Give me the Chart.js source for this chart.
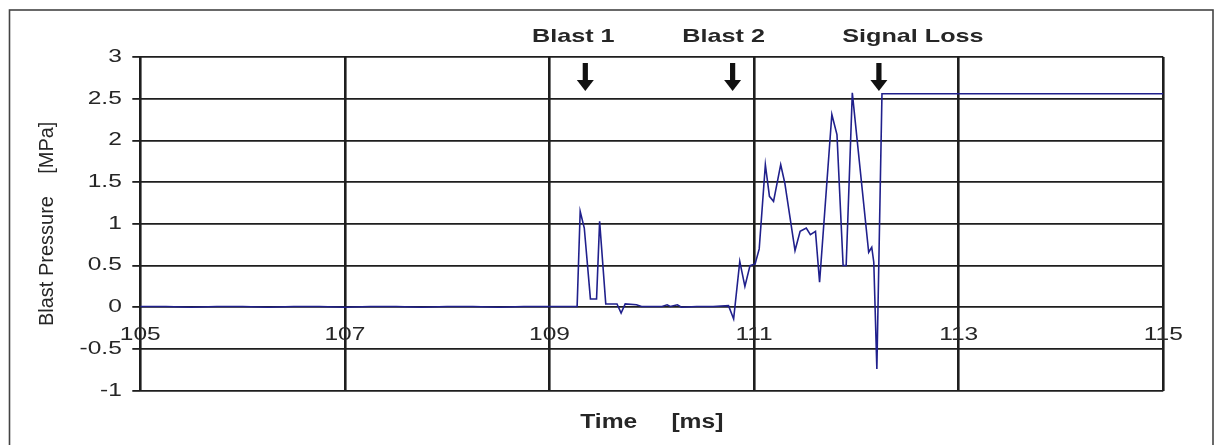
<!DOCTYPE html>
<html>
<head>
<meta charset="utf-8">
<title>Blast Pressure</title>
<script src="https://cdn.jsdelivr.net/npm/chart.js@4.4.1/dist/chart.umd.min.js"></script>
<style>
  html, body { margin: 0; padding: 0; background: #fff; }
  canvas { display: block; }
</style>
</head>
<body>
<canvas id="pressureChart" width="1218" height="445"></canvas>
<script>
// ================= DATA =================

// gauge trace, time in ms / pressure in MPa
const timeMs = [
    105.00, 105.25, 105.50, 105.75, 106.00, 106.25, 106.50, 106.75,
    107.00, 107.25, 107.50, 107.75, 108.00, 108.25, 108.50, 108.75,
    109.00, 109.27, 109.30, 109.34, 109.40, 109.46, 109.49, 109.55,
    109.66, 109.70, 109.74, 109.85, 109.90, 110.00, 110.10, 110.15,
    110.18, 110.25, 110.29, 110.44, 110.60, 110.75, 110.80, 110.86,
    110.91, 110.96, 111.01, 111.05, 111.11, 111.15, 111.19, 111.26,
    111.30, 111.40, 111.45, 111.51, 111.55, 111.60, 111.64, 111.76,
    111.81, 111.87, 111.90, 111.96, 112.12, 112.15, 112.17, 112.20,
    112.25, 115.00
];
const pressureMPa = [
    0.01, 0.01, 0.00, 0.01, 0.01, 0.00, 0.01, 0.01,
    0.00, 0.01, 0.01, 0.00, 0.01, 0.01, 0.00, 0.01,
    0.01, 0.01, 1.15, 0.95, 0.10, 0.10, 1.03, 0.04,
    0.04, -0.07, 0.04, 0.03, 0.01, 0.01, 0.01, 0.03,
    0.01, 0.03, 0.00, 0.01, 0.01, 0.02, -0.14, 0.55,
    0.25, 0.50, 0.52, 0.70, 1.71, 1.33, 1.27, 1.71,
    1.49, 0.68, 0.91, 0.95, 0.87, 0.91, 0.30, 2.31,
    2.07, 0.50, 0.50, 2.57, 0.66, 0.72, 0.54, -0.74,
    2.56, 2.56
];

// marked events
const eventNames = ["Blast 1", "Blast 2", "Signal Loss"];
const eventTimes = [109.35, 110.79, 112.22];

// ================= TEXT HELPERS =================

const FONT = "'Liberation Sans', Arial, Helvetica, sans-serif";
const INK = "#262626";

// text in this figure is set wide, so squeeze it through a horizontal scale
function wideText(ctx, text, x, y, sx, align, font) {
    ctx.save();
    ctx.font = font;
    ctx.fillStyle = INK;
    ctx.textAlign = align;
    ctx.textBaseline = "middle";
    ctx.translate(x, y);
    ctx.scale(sx, 1);
    ctx.fillText(text, 0, 0);
    ctx.restore();
}

function drawArrow(ctx, x) {
    ctx.save();
    ctx.fillStyle = "#111";
    ctx.fillRect(x - 2.6, 63, 5.2, 18);
    ctx.beginPath();
    ctx.moveTo(x - 8.5, 80);
    ctx.lineTo(x + 8.5, 80);
    ctx.lineTo(x, 91);
    ctx.closePath();
    ctx.fill();
    ctx.restore();
}

// plain numbers: 3, 2.5, 2 ... rather than 3.0, 2.5, 2.0
function plainLabel(v) {
    return String(Number(v.toFixed(2)));
}

// ================= PLUGIN =================

const blastDecor = {
    id: "blastDecor",
    beforeDraw(chart) {
        const ctx = chart.ctx;
        ctx.save();
        ctx.fillStyle = "#fff";
        ctx.fillRect(0, 0, chart.width, chart.height);
        ctx.strokeStyle = "#444";
        ctx.lineWidth = 1.6;
        ctx.strokeRect(9.5, 10, 1203.5, 460);
        ctx.restore();
    },
    afterDraw(chart) {
        const ctx = chart.ctx;
        const xs = chart.scales.x;
        const ys = chart.scales.y;
        const area = chart.chartArea;
        const tickFont = "17.5px " + FONT;

        // value labels left of the plot
        ys.ticks.forEach(t => {
            wideText(ctx, plainLabel(t.value), area.left - 18.5, ys.getPixelForValue(t.value),
                1.4, "right", tickFont);
        });

        // time labels hang under the zero line
        const zeroY = ys.getPixelForValue(0);
        xs.ticks.forEach(t => {
            wideText(ctx, plainLabel(t.value), xs.getPixelForValue(t.value), zeroY + 27.5,
                1.4, "center", tickFont);
        });

        // axis title under the plot
        wideText(ctx, "Time     [ms]", (area.left + area.right) / 2, 422.5,
            1.23, "center", "bold 20px " + FONT);

        // event markers above the plot
        const labelDx = [-12, -9, 34];
        eventTimes.forEach((t, i) => {
            const x = xs.getPixelForValue(t);
            drawArrow(ctx, x);
            wideText(ctx, eventNames[i], x + labelDx[i], 36.5,
                1.36, "center", "bold 18.5px " + FONT);
        });
    }
};

// ================= CHART =================

const points = timeMs.map((t, i) => ({ x: t, y: pressureMPa[i] }));

new Chart(document.getElementById("pressureChart"), {
    type: "line",
    data: {
        datasets: [{
            label: "Blast Pressure",
            data: points,
            borderColor: "#20208c",
            borderWidth: 1.6,
            pointRadius: 0,
            tension: 0,
            fill: false
        }]
    },
    options: {
        responsive: false,
        animation: false,
        layout: { padding: { top: 57, right: 54.7, bottom: 0, left: 0 } },
        plugins: {
            legend: { display: false },
            tooltip: { enabled: false }
        },
        scales: {
            x: {
                type: "linear",
                min: 105,
                max: 115,
                ticks: { display: false, stepSize: 2 },
                grid: { color: "#1e1e1e", lineWidth: 2.6, drawTicks: false },
                border: { display: false },
                afterFit: s => { s.height = 445 - 390.7; }
            },
            y: {
                min: -1,
                max: 3,
                ticks: { display: false, stepSize: 0.5 },
                grid: { color: "#1e1e1e", lineWidth: 1.8, drawTicks: true, tickLength: 8 },
                border: { display: false },
                title: {
                    display: true,
                    text: "Blast Pressure    [MPa]",
                    color: INK,
                    font: { family: FONT, size: 20 },
                    padding: { top: 35.5, bottom: 0 }
                },
                afterFit: s => { s.width = 140.3; }
            }
        }
    },
    plugins: [blastDecor]
});
</script>
</body>
</html>
